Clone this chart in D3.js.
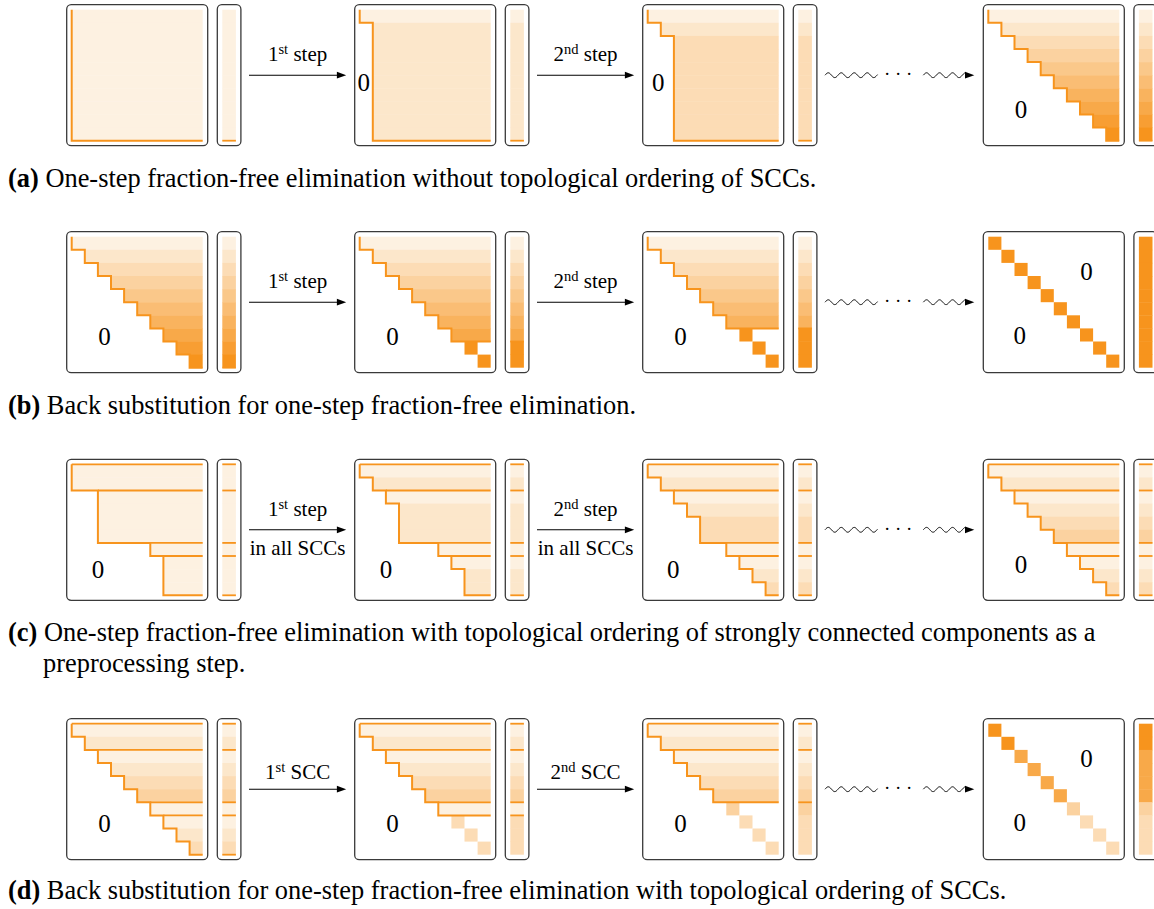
<!DOCTYPE html>
<html>
<head>
<meta charset="utf-8">
<script src="https://cdn.jsdelivr.net/npm/d3@7"></script>
<style>
body{margin:0;background:#fff}
svg{display:block;font-family:"Liberation Serif","Times New Roman",serif}
</style>
</head>
<body>
<div id="container"></div>
<script>
// every matrix is an N x N grid, rows are drawn from their first nonzero column
const N = 10
const stair = d3.range(N)

// (a) forward elimination, no SCC ordering
const startA = [
    [0,0,0,0,0,0,0,0,0,0],
    [0,1,1,1,1,1,1,1,1,1],
    [0,1,2,2,2,2,2,2,2,2],
    stair
]
const levelA = [
    [0,0,0,0,0,0,0,0,0,0],
    [0,1,1,1,1,1,1,1,1,1],
    [0,1,2,2,2,2,2,2,2,2],
    [0,1,2,3,4,5,6,7,8,9]
]
const diagA = [10,10,10,10]     // rows >= this value only keep the diagonal cell
const cutsA = [[],[],[],[]]
const zerosA = [[], [[0.3,5.5]], [[0.8,5.5]], [[2.5,7.6]]]

// (b) back substitution
const startB = [stair, stair, stair, stair]
const levelB = [
    [0,1,2,3,4,5,6,7,8,9],
    [0,1,2,3,4,5,6,7,9,9],
    [0,1,2,3,4,5,6,9,9,9],
    [9,9,9,9,9,9,9,9,9,9]
]
const diagB = [10,8,7,0]
const cutsB = [[],[],[],[]]
const zerosB = [[[2.5,7.6]], [[2.5,7.6]], [[2.5,7.6]], [[7.5,2.6],[2.4,7.55]]]

// (c) forward elimination inside the SCC blocks
const sccTops = [0,2,6,7]
const startC = [
    [0,0,2,2,2,2,6,7,7,7],
    [0,1,2,3,3,3,6,7,8,8],
    [0,1,2,3,4,4,6,7,8,9],
    stair
]
const levelC = [
    [0,0,0,0,0,0,0,0,0,0],
    [0,1,0,1,1,1,0,0,1,1],
    [0,1,0,1,2,2,0,0,1,2],
    [0,1,0,1,2,3,0,0,1,2]
]
const diagC = [10,10,10,10]
const cutsC = [sccTops, sccTops, sccTops, sccTops]
const zerosC = [[[2.0,8.0]], [[2.0,8.0]], [[1.95,8.0]], [[2.5,7.6]]]

// (d) back substitution, one SCC at a time
const startD = [stair, stair, stair, stair]
const levelD = [
    [0,1,0,1,2,3,0,0,1,2],
    [0,1,0,1,2,3,0,2,2,2],
    [0,1,0,1,2,3,3,2,2,2],
    [9,9,7,7,7,7,3,2,2,2]
]
const diagD = [10,7,6,0]
const cutsD = [[0,2,6,7],[0,2,6],[0,2],[]]
const zerosD = [[[2.5,7.6]], [[2.5,7.6]], [[2.5,7.6]], [[7.5,2.6],[2.4,7.5]]]

// arrow texts
const topLabels = [
    [["1","st"," step"],["2","nd"," step"]],
    [["1","st"," step"],["2","nd"," step"]],
    [["1","st"," step"],["2","nd"," step"]],
    [["1","st"," SCC"],["2","nd"," SCC"]]
]
const subLabels = [[], [], ["in all SCCs","in all SCCs"], []]

const captions = [
    ["(a)", " One-step fraction-free elimination without topological ordering of SCCs."],
    ["(b)", " Back substitution for one-step fraction-free elimination."],
    ["(c)", " One-step fraction-free elimination with topological ordering of strongly connected components as a", "preprocessing step."],
    ["(d)", " Back substitution for one-step fraction-free elimination with topological ordering of SCCs."]
]

const panels = [
    {start: startA, level: levelA, diag: diagA, cuts: cutsA, zeros: zerosA},
    {start: startB, level: levelB, diag: diagB, cuts: cutsB, zeros: zerosB},
    {start: startC, level: levelC, diag: diagC, cuts: cutsC, zeros: zerosC},
    {start: startD, level: levelD, diag: diagD, cuts: cutsD, zeros: zerosD}
]

//layout
const W = 1154, H = 909
const colX = [66.7, 354.7, 642.7, 983.3]
const rowY = [4.7, 231.7, 459.3, 718.7]
const captionY = [186.5, 413.5, 640.5, 898.5]
const BOX = 141, PAD = 5, INNER = 131
const VEC_OFF = 150.6, VEC_W = 23.6
const orange = "#f7941d"
const shade = d3.scaleLinear().domain([0, N-1]).range(["#fdf1e1", orange])

const svg = d3.select("#container").append("svg")
    .attr("width", W).attr("height", H)
    .attr("viewBox", [0, 0, W, H])

function drawMatrix(g, bx, by, st){
    const x = d3.scaleLinear().domain([0, N]).range([bx+PAD, bx+PAD+INNER])
    const y = d3.scaleLinear().domain([0, N]).range([by+PAD, by+PAD+INNER])
    const rows = d3.range(N).map(i => ({
        i,
        from: i >= st.diag ? i : st.start[i],
        to: i >= st.diag ? i+1 : N,
        lev: st.level[i]
    }))

    g.selectAll(null).data(rows).enter().append("rect")
        .attr("x", d => x(d.from))
        .attr("y", d => y(d.i))
        .attr("width", d => x(d.to) - x(d.from))
        .attr("height", d => y(d.i+1) - y(d.i) + (d.i < N-1 && d.to === N ? 0.4 : 0))
        .attr("fill", d => shade(d.lev))

    // staircase boundary of the nonzero part
    const last = Math.min(st.diag, N)
    const line = d3.line().x(p => x(p[0])).y(p => y(p[1]))
    if (last > 0){
        const pts = [[st.start[0], 0]]
        for (let i = 0; i < last; i++){
            pts.push([st.start[i], i+1])
            pts.push([i+1 < last ? st.start[i+1] : N, i+1])
        }
        g.append("path").attr("d", line(pts))
            .attr("fill", "none").attr("stroke", orange)
            .attr("stroke-width", 2).attr("stroke-linejoin", "miter")
    }
    st.cuts.forEach(c => {
        g.append("path").attr("d", line([[st.start[c], c], [N, c]]))
            .attr("stroke", orange).attr("stroke-width", 1.8)
    })

    g.append("rect")
        .attr("x", bx).attr("y", by).attr("width", BOX).attr("height", BOX)
        .attr("rx", 4.5)
        .attr("fill", "none").attr("stroke", "#3a3a3a").attr("stroke-width", 1.3)

    st.zeros.forEach(z => {
        g.append("text")
            .attr("x", x(z[0])).attr("y", y(z[1]))
            .attr("dy", "0.35em")
            .attr("text-anchor", "middle")
            .attr("font-size", 25)
            .text("0")
    })

    // right hand side vector
    const vx = bx + VEC_OFF
    const vxs = d3.scaleLinear().domain([0, 1]).range([vx+PAD, vx+VEC_W-PAD])
    g.selectAll(null).data(rows).enter().append("rect")
        .attr("x", vxs(0))
        .attr("y", d => y(d.i))
        .attr("width", vxs(1) - vxs(0))
        .attr("height", d => y(d.i+1) - y(d.i) + (d.i < N-1 ? 0.4 : 0))
        .attr("fill", d => shade(d.lev))
    const vlines = st.cuts.slice()
    if (last > 0) vlines.push(last)
    vlines.forEach(c => {
        g.append("line")
            .attr("x1", vxs(0)).attr("x2", vxs(1))
            .attr("y1", y(c)).attr("y2", y(c))
            .attr("stroke", orange).attr("stroke-width", 1.8)
    })
    g.append("rect")
        .attr("x", vx).attr("y", by).attr("width", VEC_W).attr("height", BOX)
        .attr("rx", 4.5)
        .attr("fill", "none").attr("stroke", "#3a3a3a").attr("stroke-width", 1.3)
}

function arrowHead(g, tx, ty){
    g.append("path")
        .attr("d", `M${tx},${ty} L${tx-9.3},${ty-3.4} L${tx-9.3},${ty+3.4} Z`)
        .attr("fill", "#000")
}

function drawArrow(g, x0, x1, ay, lab, sub){
    g.append("line")
        .attr("x1", x0).attr("x2", x1 - 8).attr("y1", ay).attr("y2", ay)
        .attr("stroke", "#000").attr("stroke-width", 1.1)
    arrowHead(g, x1, ay)
    const cx = (x0 + x1) / 2
    const desc = /[gpqy]/.test(lab.join("")) ? 14 : 10.5
    const t = g.append("text")
        .attr("x", cx).attr("y", ay - desc)
        .attr("text-anchor", "middle")
        .attr("font-size", 21)
    t.append("tspan").text(lab[0])
    t.append("tspan").attr("font-size", 14.5).attr("dy", -7).text(lab[1])
    t.append("tspan").attr("dy", 7).text(lab[2])
    if (sub){
        g.append("text")
            .attr("x", cx).attr("y", ay + 25)
            .attr("text-anchor", "middle")
            .attr("font-size", 21)
            .text(sub)
    }
}

function wave(g, x0, x1, ay){
    const pts = d3.range(x0, x1 + 0.01, 0.5).map(px => [px, ay - 2.4*Math.sin(2*Math.PI*(px - x0)/13)])
    g.append("path").attr("d", d3.line()(pts))
        .attr("fill", "none").attr("stroke", "#000").attr("stroke-width", 1)
}

panels.forEach((p, r) => {
    const g = svg.append("g").attr("class", "panel-row")
    const by = rowY[r]
    const ay = by + BOX/2
    colX.forEach((bx, k) => {
        drawMatrix(g, bx, by, {
            start: p.start[k], level: p.level[k], diag: p.diag[k],
            cuts: p.cuts[k], zeros: p.zeros[k]
        })
    })
    // two plain arrows
    for (let k = 0; k < 2; k++){
        drawArrow(g, colX[k] + 182.3, colX[k] + 279.5, ay, topLabels[r][k], subLabels[r][k])
    }
    // wavy arrow with dots
    const wx = colX[2]
    wave(g, wx + 182.3, wx + 235, ay)
    g.append("text")
        .attr("x", wx + 255.5).attr("y", ay + 5)
        .attr("text-anchor", "middle")
        .attr("font-size", 19)
        .text("· · ·")
    wave(g, wx + 280.6, wx + 323, ay)
    arrowHead(g, wx + 331.6, ay)

    // caption
    const cap = captions[r]
    const ct = svg.append("text")
        .attr("x", 8).attr("y", captionY[r])
        .attr("font-size", 26.4)
    ct.append("tspan").attr("font-weight", "bold").text(cap[0])
    ct.append("tspan").text(cap[1])
    if (cap[2]){
        svg.append("text")
            .attr("x", 43).attr("y", captionY[r] + 31)
            .attr("font-size", 26.4)
            .text(cap[2])
    }
})
</script>
</body>
</html>
